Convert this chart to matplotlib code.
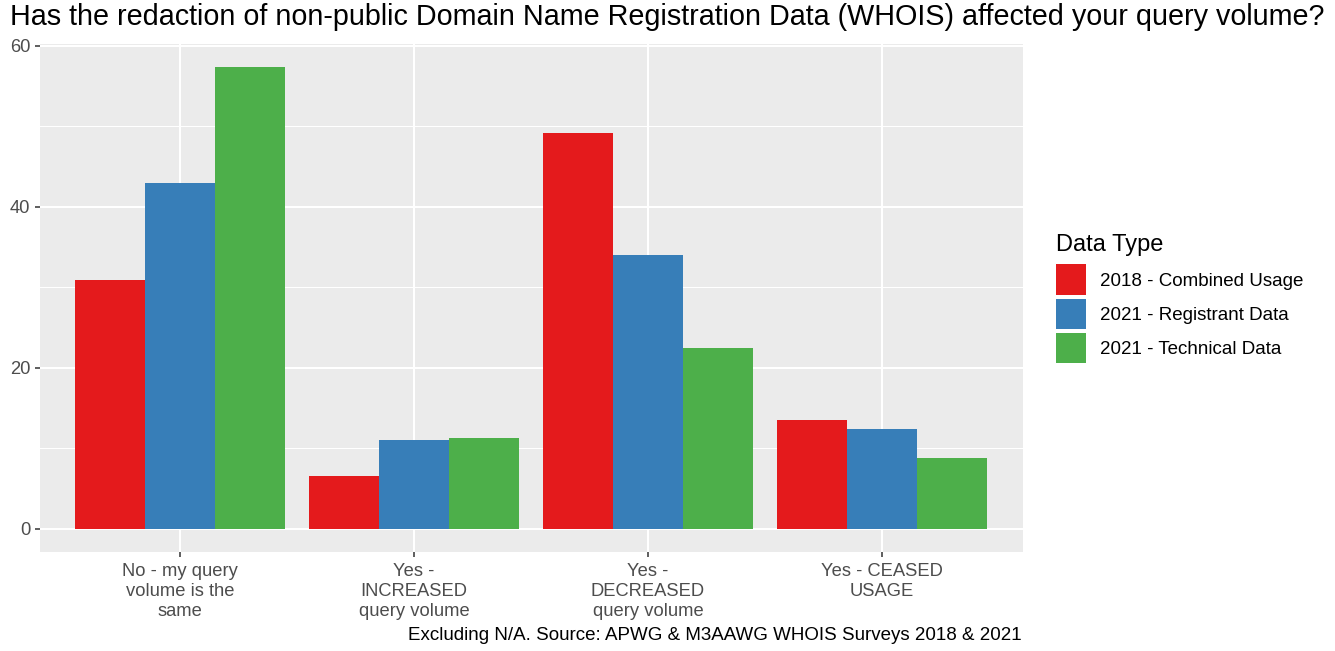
import matplotlib
matplotlib.use("Agg")
import matplotlib.pyplot as plt
import numpy as np
from matplotlib.patches import Patch

plt.rcParams['font.family'] = ['Liberation Sans', 'DejaVu Sans']

categories = ["No - my query\nvolume is the\nsame", "Yes -\nINCREASED\nquery volume",
              "Yes -\nDECREASED\nquery volume", "Yes - CEASED\nUSAGE"]
series_names = ["2018 - Combined Usage", "2021 - Registrant Data", "2021 - Technical Data"]
combined_2018 = [30.9, 6.6, 49.2, 13.5]
registrant_2021 = [42.9, 11.0, 34.0, 12.4]
technical_2021 = [57.4, 11.3, 22.5, 8.8]
colors = ["#E41A1C", "#377EB8", "#4DAF4A"]
yticks = [0, 20, 40, 60]

W, H = 1335, 651
fig = plt.figure(figsize=(W/100, H/100), dpi=100)
left, right, top, bottom = 39.5, 1022.5, 43.5, 552
ax = fig.add_axes([left/W, 1-bottom/H, (right-left)/W, (bottom-top)/H])
ax.set_facecolor("#EBEBEB")

x = np.arange(1, len(categories)+1)
bw = 0.3
allv = [combined_2018, registrant_2021, technical_2021]
for i, (vals, c) in enumerate(zip(allv, colors)):
    ax.bar(x + (i-1)*bw, vals, width=bw, color=c, zorder=3, linewidth=0)

ymax = max(max(v) for v in allv)
pad = 0.05*ymax
ax.set_ylim(-pad, ymax+pad)
ax.set_xlim(0.4, 4.6)
ax.set_yticks(yticks)
ax.set_yticks([10, 30, 50], minor=True)
ax.set_xticks(x)
ax.set_xticklabels(categories, linespacing=1.22)
ax.grid(which='major', color='white', linewidth=1.5, zorder=0)
ax.grid(which='minor', axis='y', color='white', linewidth=0.75, zorder=0)
ax.tick_params(axis='both', which='major', length=3.5, width=1.1, color='#333333',
               labelsize=13.2, labelcolor='#4D4D4D', pad=3)
ax.tick_params(axis='x', which='major', pad=4.5)
ax.tick_params(axis='both', which='minor', length=0)
for s in ax.spines.values():
    s.set_visible(False)

fig.text(10/W, 1-17/H, "Has the redaction of non-public Domain Name Registration Data (WHOIS) affected your query volume?",
         fontsize=20.7, ha='left', va='center', color='black')
fig.text(1022/W, 1-636/H, "Excluding N/A. Source: APWG & M3AAWG WHOIS Surveys 2018 & 2021",
         fontsize=13.5, ha='right', va='center', color='black')

handles = [Patch(facecolor=c, edgecolor='none', label=n) for c, n in zip(colors, series_names)]
leg = fig.legend(handles=handles, title="Data Type", loc='upper left',
                 bbox_to_anchor=(1055.5/W, 1-234/H), frameon=False, fontsize=13.5,
                 title_fontsize=17, handlelength=1.65, handleheight=2.13,
                 handletextpad=0.7, labelspacing=0.2, borderpad=0, borderaxespad=0)
leg._legend_box.align = "left"
leg._legend_box.sep = 6

fig.savefig("out.png", dpi=100)
